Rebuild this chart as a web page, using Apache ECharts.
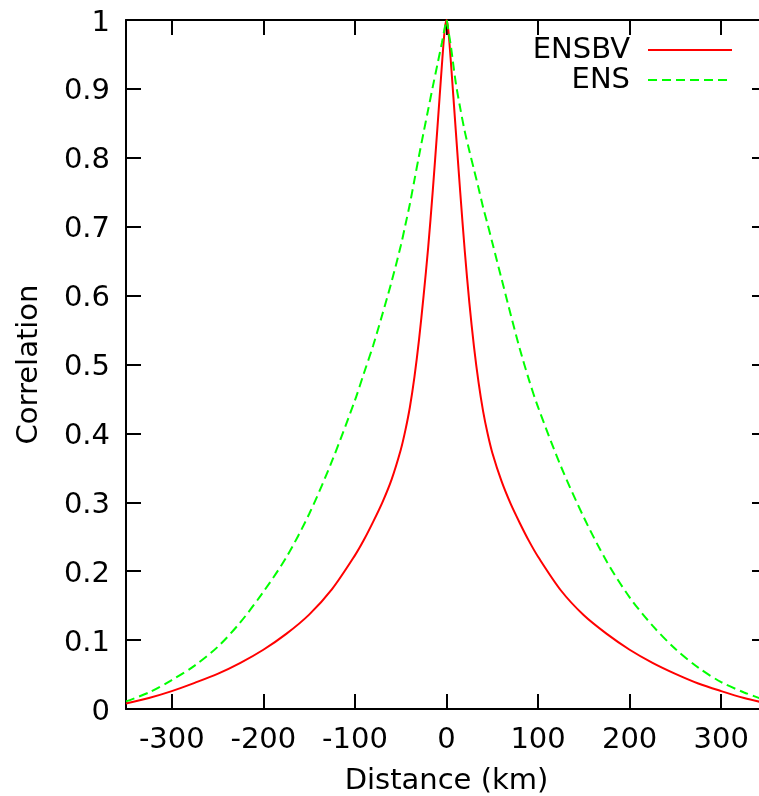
<!DOCTYPE html>
<html>
<head>
<meta charset="utf-8">
<script src="https://cdn.jsdelivr.net/npm/echarts@6/dist/echarts.min.js"></script>
<style>
html,body{margin:0;padding:0;background:#fff;overflow:hidden;}
#chart{width:759px;height:796px;}
</style>
</head>
<body>
<div id="chart"></div>
<script>
// Distance (km) sample points
const distance = [-350,-325,-300,-275,-250,-225,-200,-175,-150,-125,-100,-90,-80,-70,-60,-50,-45,-40,-35,-30,-25,-20,-15,-10,-5,-2,0,2,5,10,15,20,25,30,35,40,45,50,60,70,80,90,100,125,150,175,200,225,250,275,300,325,350];
// ENSBV correlation
const ensbv = [0.008,0.016,0.026,0.038,0.051,0.067,0.086,0.109,0.137,0.174,0.223,0.246,0.272,0.300,0.333,0.376,0.404,0.438,0.482,0.536,0.600,0.670,0.752,0.842,0.935,0.985,1.0,0.985,0.935,0.842,0.750,0.664,0.589,0.526,0.474,0.432,0.399,0.372,0.331,0.298,0.270,0.244,0.221,0.172,0.136,0.109,0.086,0.067,0.051,0.037,0.026,0.016,0.008];
// ENS correlation
const ens = [0.011,0.024,0.042,0.063,0.090,0.126,0.170,0.220,0.283,0.360,0.448,0.488,0.528,0.573,0.620,0.672,0.702,0.733,0.768,0.803,0.837,0.870,0.903,0.935,0.967,0.988,1.0,0.985,0.960,0.910,0.872,0.838,0.810,0.783,0.756,0.728,0.703,0.677,0.625,0.573,0.523,0.478,0.438,0.352,0.278,0.214,0.162,0.121,0.087,0.060,0.039,0.024,0.012];
const xTicks = [-300,-200,-100,0,100,200,300];
const yTicks = [0,0.1,0.2,0.3,0.4,0.5,0.6,0.7,0.8,0.9,1];

const FONT = 'DejaVu Sans';
const FS = 29;
const chart = echarts.init(document.getElementById('chart'), null, {renderer:'canvas'});
const pair = (xs, ys) => xs.map((x,i)=>[x, ys[i]]);
const lineAxis = {show:true, onZero:false, lineStyle:{color:'#000', width:2}};
const tickInside = {show:true, inside:true, length:15, lineStyle:{color:'#000', width:2}};

chart.setOption({
  animation:false,
  backgroundColor:'#fff',
  textStyle:{fontFamily:FONT, color:'#000'},
  grid:{left:126, top:20, width:641, height:689, containLabel:false, outerBoundsMode:'none', show:false},
  legend:{
    orient:'vertical', right:26, top:35, align:'right', padding:0,
    itemWidth:84, itemHeight:14, itemGap:0,
    itemStyle:{opacity:0},
    textStyle:{fontFamily:FONT, fontSize:FS, color:'#000', lineHeight:30, padding:[0,13,0,0]},
    data:['ENSBV','ENS']
  },
  xAxis:[{
    type:'value', min:-350, max:350, position:'bottom',
    name:'Distance (km)', nameLocation:'middle', nameGap:58,
    nameTextStyle:{fontFamily:FONT, fontSize:FS, color:'#000'},
    axisLine:lineAxis,
    axisTick:Object.assign({customValues:xTicks}, tickInside),
    axisLabel:{customValues:xTicks, margin:17, fontFamily:FONT, fontSize:FS, color:'#000'},
    splitLine:{show:false}
  },{
    type:'value', min:-350, max:350, position:'top',
    axisLine:lineAxis,
    axisTick:Object.assign({customValues:xTicks}, tickInside),
    axisLabel:{show:false}, splitLine:{show:false}
  }],
  yAxis:[{
    type:'value', min:0, max:1, position:'left',
    name:'Correlation', nameLocation:'middle', nameGap:82, nameRotate:90,
    nameTextStyle:{fontFamily:FONT, fontSize:FS, color:'#000'},
    axisLine:lineAxis,
    axisTick:Object.assign({customValues:yTicks}, tickInside),
    axisLabel:{customValues:yTicks, margin:16, color:'#000',
      formatter:v=>'{t|' + String(Math.round(v*10)/10) + '}',
      rich:{t:{fontFamily:FONT, fontSize:FS, color:'#000', padding:[6,0,0,0]}}},
    splitLine:{show:false}
  },{
    type:'value', min:0, max:1, position:'right',
    axisLine:lineAxis,
    axisTick:Object.assign({customValues:yTicks}, tickInside),
    axisLabel:{show:false}, splitLine:{show:false}
  }],
  series:[{
    name:'ENSBV', type:'line', data:pair(distance, ensbv),
    showSymbol:false, symbol:'none', smooth:0.3,
    lineStyle:{color:'#ff0000', width:2}, itemStyle:{color:'#ff0000'}
  },{
    name:'ENS', type:'line', data:pair(distance, ens),
    showSymbol:false, symbol:'none', smooth:0.3,
    lineStyle:{color:'#00ff00', width:2, type:[9,5]}, itemStyle:{color:'#00ff00'}
  }]
});
</script>
</body>
</html>
